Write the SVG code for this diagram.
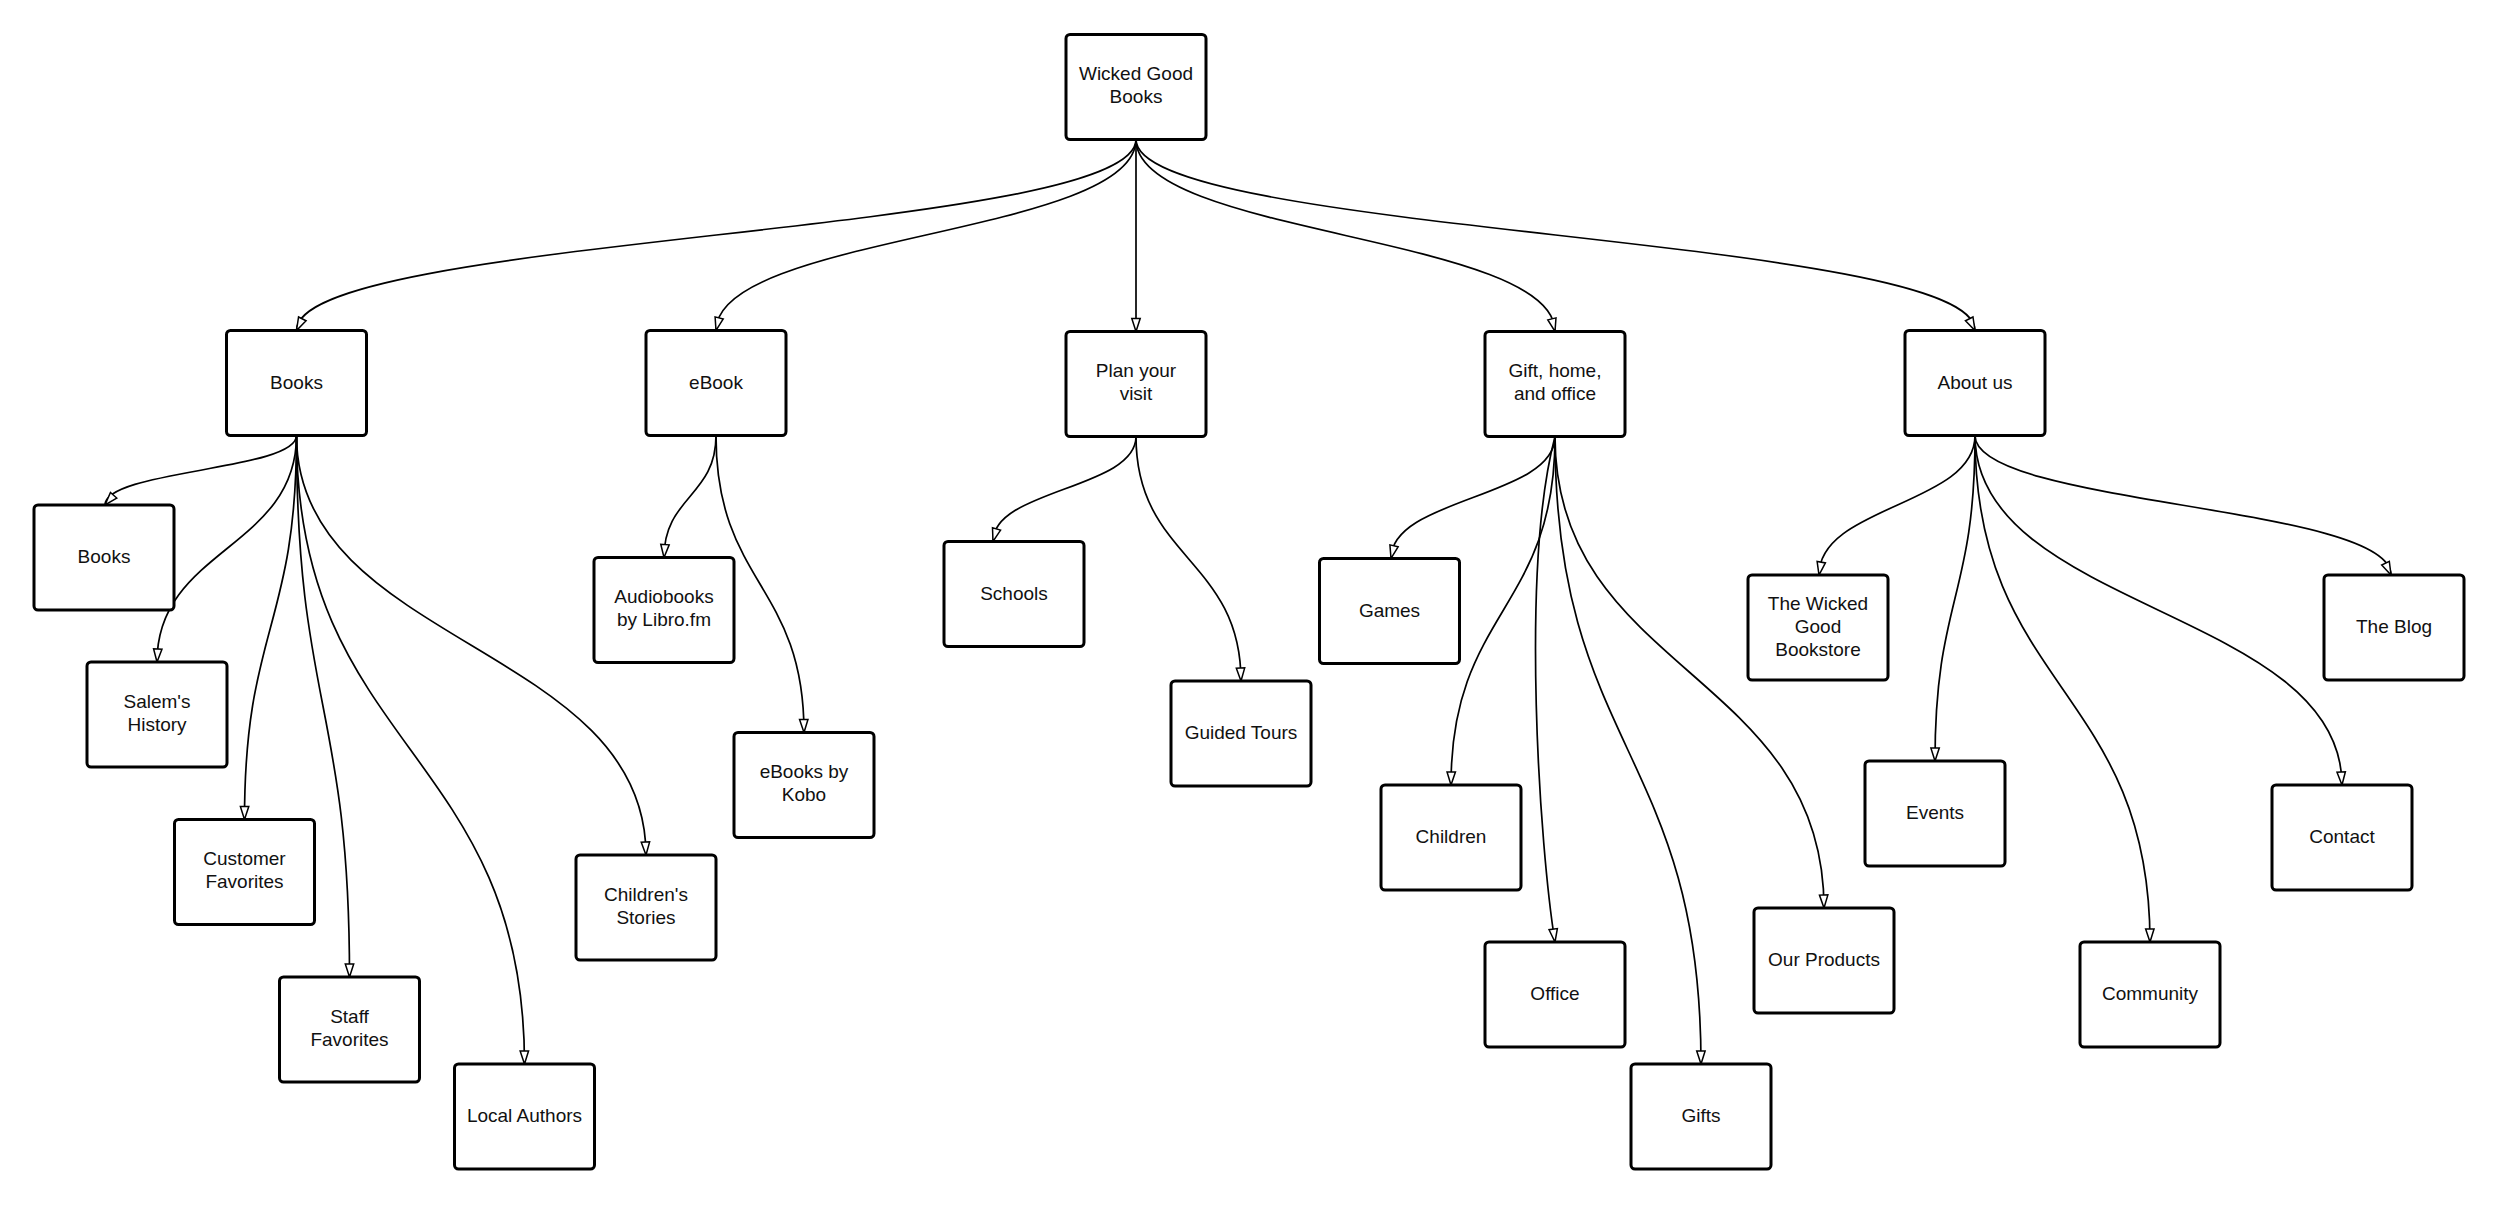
<svg xmlns="http://www.w3.org/2000/svg" width="2500" height="1205" viewBox="0 0 2500 1205">
<defs>
<style>
.node rect { fill:#ffffff; stroke:#000000; stroke-width:3; }
.node text { font-family:"Liberation Sans", Arial, sans-serif; font-size:19px; fill:#111111; text-anchor:middle; }
.edge { fill:none; stroke:#000000; stroke-width:1.7; }
.head { fill:none; stroke:none; }
</style>
<marker id="arrow" markerUnits="userSpaceOnUse" viewBox="0 0 20 14" markerWidth="20" markerHeight="14" refX="15" refY="7" orient="auto">
<path d="M2,2.8 L15,7 L2,11.2 Z" fill="#ffffff" stroke="#000000" stroke-width="1.5"/>
</marker>
</defs>
<rect x="0" y="0" width="2500" height="1205" fill="#ffffff"/>

<g id="connectors">
<path class="edge" d="M1136,139.5 C1136,235 296.5,235 296.5,330.5"/><path class="head" marker-end="url(#arrow)" d="M304.05,315.4 L296.5,330.5"/>
<path class="edge" d="M1136,139.5 C1136,235 716,235 716,330.5"/><path class="head" marker-end="url(#arrow)" d="M719.8,315.4 L716,330.5"/>
<path class="edge" d="M1136,139.5 C1136,235.5 1136,235.5 1136,331.5"/><path class="head" marker-end="url(#arrow)" d="M1136,315.5 L1136,331.5"/>
<path class="edge" d="M1136,139.5 C1136,235.5 1555,235.5 1555,331.5"/><path class="head" marker-end="url(#arrow)" d="M1551.3,316.4 L1555,331.5"/>
<path class="edge" d="M1136,139.5 C1136,235 1975,235 1975,330.5"/><path class="head" marker-end="url(#arrow)" d="M1967.5,315.4 L1975,330.5"/>

<path class="edge" d="M296.5,435.5 C296.5,470.25 105,470.25 105,505"/><path class="head" marker-end="url(#arrow)" d="M117.2,491.2 L105,505"/>
<path class="edge" d="M296.5,435.5 C296.5,548.75 157,548.75 157,662"/><path class="head" marker-end="url(#arrow)" d="M157.9,646.7 L157,662"/>
<path class="edge" d="M296.5,435.5 C296.5,627.5 244.5,627.5 244.5,819.5"/><path class="head" marker-end="url(#arrow)" d="M244.6,803.5 L244.5,819.5"/>
<path class="edge" d="M296.5,435.5 C296.5,706.25 349.5,706.25 349.5,977"/><path class="head" marker-end="url(#arrow)" d="M349.5,961 L349.5,977"/>
<path class="edge" d="M296.5,435.5 C296.5,749.75 524.5,749.75 524.5,1064"/><path class="head" marker-end="url(#arrow)" d="M524.3,1048 L524.5,1064"/>
<path class="edge" d="M296.5,435.5 C296.5,645.25 646,645.25 646,855"/><path class="head" marker-end="url(#arrow)" d="M645.3,839 L646,855"/>

<path class="edge" d="M716,435.5 C716,496.5 664,496.5 664,557.5"/><path class="head" marker-end="url(#arrow)" d="M665.1,542.8 L664,557.5"/>
<path class="edge" d="M716,435.5 C716,584 804,584 804,732.5"/><path class="head" marker-end="url(#arrow)" d="M803.7,716.5 L804,732.5"/>

<path class="edge" d="M1136,436.5 C1136,489 993,489 993,541.5"/><path class="head" marker-end="url(#arrow)" d="M997.1,527 L993,541.5"/>
<path class="edge" d="M1136,436.5 C1136,558.75 1241,558.75 1241,681"/><path class="head" marker-end="url(#arrow)" d="M1240.4,665 L1241,681"/>

<path class="edge" d="M1555,436.5 C1555,497.5 1391,497.5 1391,558.5"/><path class="head" marker-end="url(#arrow)" d="M1394.5,543.8 L1391,558.5"/>
<path class="edge" d="M1555,436.5 C1555,610.75 1451,610.75 1451,785"/><path class="head" marker-end="url(#arrow)" d="M1451.3,769 L1451,785"/>
<path class="edge" d="M1555,436.5 C1520,570 1540,850 1555,942"/><path class="head" marker-end="url(#arrow)" d="M1552.8,926.2 L1555,942"/>
<path class="edge" d="M1555,436.5 C1555,750.25 1701,750.25 1701,1064"/><path class="head" marker-end="url(#arrow)" d="M1700.9,1048 L1701,1064"/>
<path class="edge" d="M1555,436.5 C1555,672.25 1824,672.25 1824,908"/><path class="head" marker-end="url(#arrow)" d="M1823.6,892 L1824,908"/>

<path class="edge" d="M1975,435.5 C1975,505.25 1819,505.25 1819,575"/><path class="head" marker-end="url(#arrow)" d="M1821.6,560.2 L1819,575"/>
<path class="edge" d="M1975,435.5 C1975,598.25 1935,598.25 1935,761"/><path class="head" marker-end="url(#arrow)" d="M1935.1,745 L1935,761"/>
<path class="edge" d="M1975,435.5 C1975,688.75 2150,688.75 2150,942"/><path class="head" marker-end="url(#arrow)" d="M2149.8,926 L2150,942"/>
<path class="edge" d="M1975,435.5 C1975,610.25 2342,610.25 2342,785"/><path class="head" marker-end="url(#arrow)" d="M2341,769 L2342,785"/>
<path class="edge" d="M1975,435.5 C1975,505.25 2391,505.25 2391,575"/><path class="head" marker-end="url(#arrow)" d="M2384.1,560.2 L2391,575"/>
</g>

<g id="n-root" class="node"><rect x="1066" y="34.5" width="140" height="105" rx="4"/><text x="1136" y="80">Wicked Good</text><text x="1136" y="103">Books</text></g>
<g id="n-books" class="node"><rect x="226.5" y="330.5" width="140" height="105" rx="4"/><text x="296.5" y="388.5">Books</text></g>
<g id="n-ebook" class="node"><rect x="646" y="330.5" width="140" height="105" rx="4"/><text x="716" y="388.5">eBook</text></g>
<g id="n-plan" class="node"><rect x="1066" y="331.5" width="140" height="105" rx="4"/><text x="1136" y="377">Plan your</text><text x="1136" y="400">visit</text></g>
<g id="n-gift" class="node"><rect x="1485" y="331.5" width="140" height="105" rx="4"/><text x="1555" y="377">Gift, home,</text><text x="1555" y="400">and office</text></g>
<g id="n-about" class="node"><rect x="1905" y="330.5" width="140" height="105" rx="4"/><text x="1975" y="388.5">About us</text></g>

<g id="n-books2" class="node"><rect x="34" y="505" width="140" height="105" rx="4"/><text x="104" y="563">Books</text></g>
<g id="n-salem" class="node"><rect x="87" y="662" width="140" height="105" rx="4"/><text x="157" y="707.5">Salem's</text><text x="157" y="730.5">History</text></g>
<g id="n-customer" class="node"><rect x="174.5" y="819.5" width="140" height="105" rx="4"/><text x="244.5" y="865">Customer</text><text x="244.5" y="888">Favorites</text></g>
<g id="n-staff" class="node"><rect x="279.5" y="977" width="140" height="105" rx="4"/><text x="349.5" y="1022.5">Staff</text><text x="349.5" y="1045.5">Favorites</text></g>
<g id="n-local" class="node"><rect x="454.5" y="1064" width="140" height="105" rx="4"/><text x="524.5" y="1122">Local Authors</text></g>
<g id="n-childstories" class="node"><rect x="576" y="855" width="140" height="105" rx="4"/><text x="646" y="900.5">Children's</text><text x="646" y="923.5">Stories</text></g>

<g id="n-audio" class="node"><rect x="594" y="557.5" width="140" height="105" rx="4"/><text x="664" y="603">Audiobooks</text><text x="664" y="626">by Libro.fm</text></g>
<g id="n-kobo" class="node"><rect x="734" y="732.5" width="140" height="105" rx="4"/><text x="804" y="778">eBooks by</text><text x="804" y="801">Kobo</text></g>

<g id="n-schools" class="node"><rect x="944" y="541.5" width="140" height="105" rx="4"/><text x="1014" y="599.5">Schools</text></g>
<g id="n-guided" class="node"><rect x="1171" y="681" width="140" height="105" rx="4"/><text x="1241" y="739">Guided Tours</text></g>

<g id="n-games" class="node"><rect x="1319.5" y="558.5" width="140" height="105" rx="4"/><text x="1389.5" y="616.5">Games</text></g>
<g id="n-children" class="node"><rect x="1381" y="785" width="140" height="105" rx="4"/><text x="1451" y="843">Children</text></g>
<g id="n-office" class="node"><rect x="1485" y="942" width="140" height="105" rx="4"/><text x="1555" y="1000">Office</text></g>
<g id="n-gifts" class="node"><rect x="1631" y="1064" width="140" height="105" rx="4"/><text x="1701" y="1122">Gifts</text></g>
<g id="n-products" class="node"><rect x="1754" y="908" width="140" height="105" rx="4"/><text x="1824" y="966">Our Products</text></g>

<g id="n-wicked" class="node"><rect x="1748" y="575" width="140" height="105" rx="4"/><text x="1818" y="609.5">The Wicked</text><text x="1818" y="632.8">Good</text><text x="1818" y="656">Bookstore</text></g>
<g id="n-events" class="node"><rect x="1865" y="761" width="140" height="105" rx="4"/><text x="1935" y="819">Events</text></g>
<g id="n-community" class="node"><rect x="2080" y="942" width="140" height="105" rx="4"/><text x="2150" y="1000">Community</text></g>
<g id="n-contact" class="node"><rect x="2272" y="785" width="140" height="105" rx="4"/><text x="2342" y="843">Contact</text></g>
<g id="n-blog" class="node"><rect x="2324" y="575" width="140" height="105" rx="4"/><text x="2394" y="633">The Blog</text></g>
</svg>
